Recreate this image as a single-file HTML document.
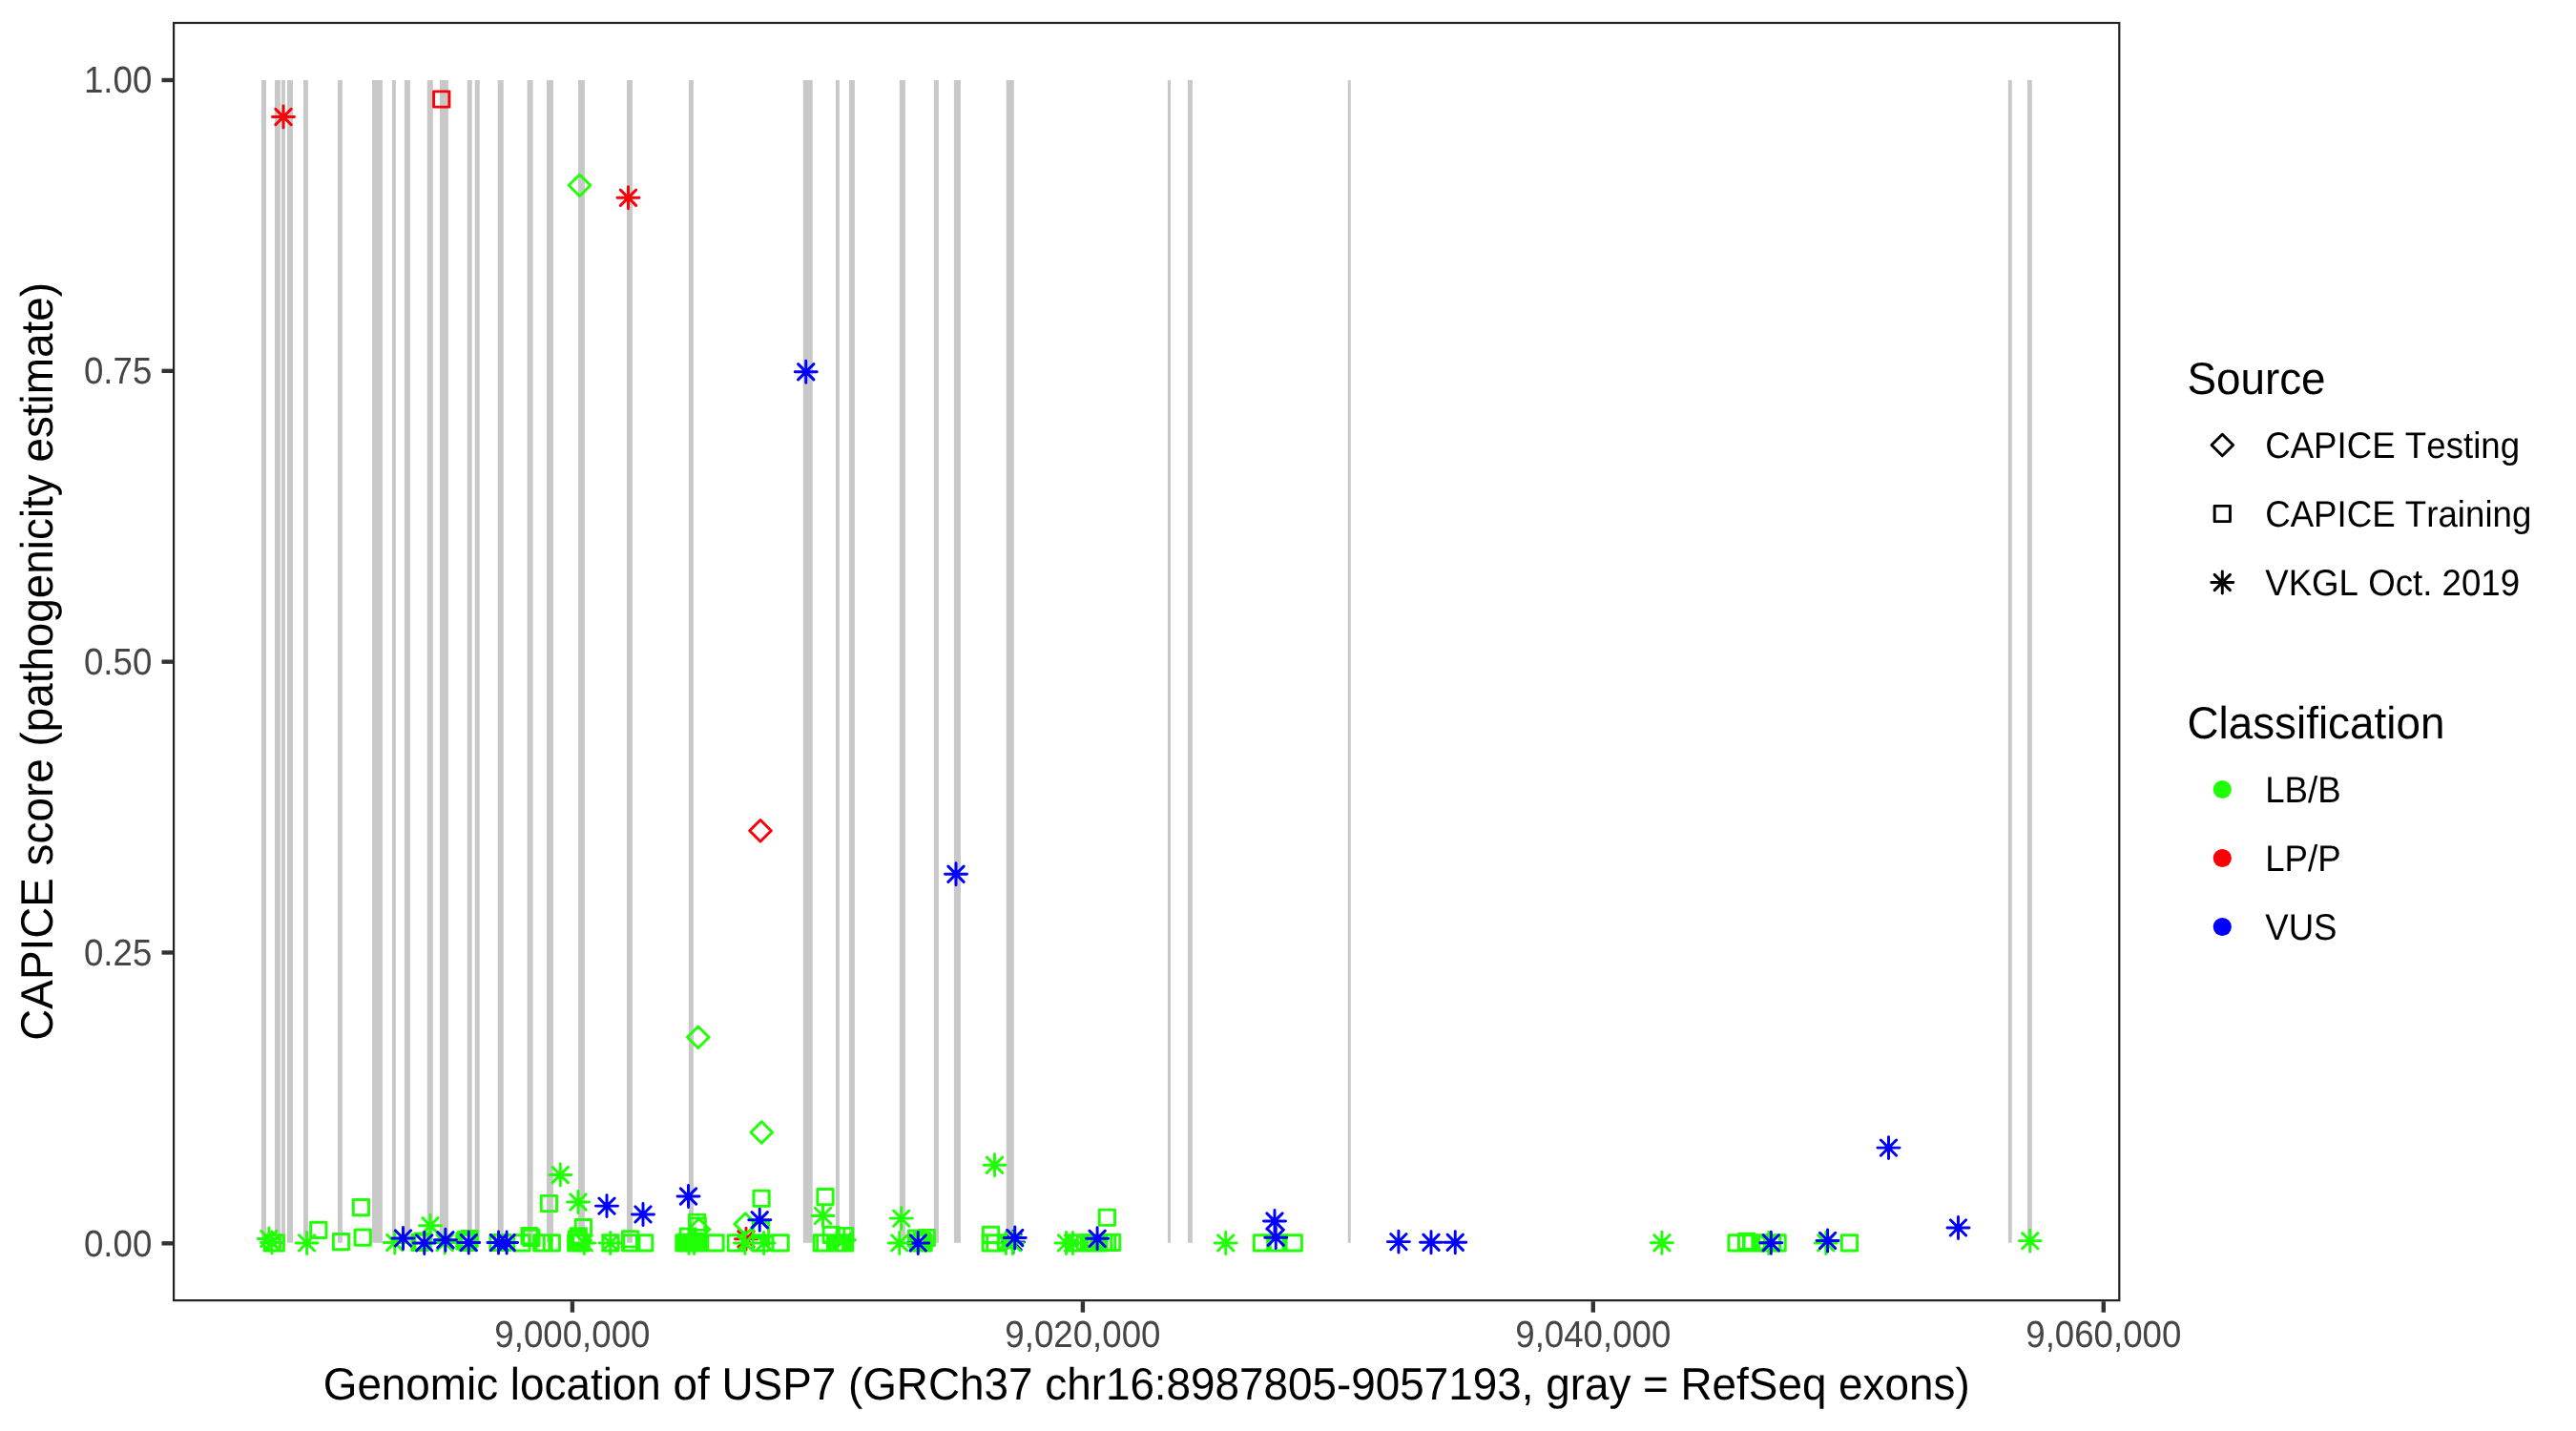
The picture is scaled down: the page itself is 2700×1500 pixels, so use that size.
<!DOCTYPE html><html><head><meta charset="utf-8"><title>CAPICE USP7</title>
<style>html,body{margin:0;padding:0;background:#fff}svg{display:block;will-change:transform}text{font-family:"Liberation Sans",Arial,Helvetica,sans-serif;font-kerning:none;font-variant-ligatures:none;text-rendering:geometricPrecision}</style></head><body>
<svg width="2700" height="1500" viewBox="0 0 2700 1500">
<rect width="2700" height="1500" fill="#fff"/>
<path d="M274.00 84.1H279.00V1302.7H274.00zM288.00 84.1H293.90V1302.7H288.00zM295.10 84.1H298.90V1302.7H295.10zM301.00 84.1H307.00V1302.7H301.00zM318.00 84.1H322.90V1302.7H318.00zM354.00 84.1H358.90V1302.7H354.00zM390.00 84.1H400.90V1302.7H390.00zM410.90 84.1H414.90V1302.7H410.90zM423.90 84.1H429.90V1302.7H423.90zM447.75 84.1H453.75V1302.7H447.75zM460.90 84.1H469.90V1302.7H460.90zM489.75 84.1H494.75V1302.7H489.75zM497.75 84.1H502.75V1302.7H497.75zM521.75 84.1H527.75V1302.7H521.75zM552.60 84.1H558.60V1302.7H552.60zM573.00 84.1H579.90V1302.7H573.00zM606.00 84.1H612.90V1302.7H606.00zM657.00 84.1H662.90V1302.7H657.00zM721.90 84.1H726.90V1302.7H721.90zM841.75 84.1H851.75V1302.7H841.75zM876.00 84.1H879.90V1302.7H876.00zM890.00 84.1H895.90V1302.7H890.00zM942.90 84.1H948.90V1302.7H942.90zM978.90 84.1H983.90V1302.7H978.90zM999.90 84.1H1006.90V1302.7H999.90zM1054.75 84.1H1062.75V1302.7H1054.75zM1223.90 84.1H1227.00V1302.7H1223.90zM1244.90 84.1H1249.90V1302.7H1244.90zM1412.75 84.1H1415.75V1302.7H1412.75zM2104.90 84.1H2108.75V1302.7H2104.90zM2124.90 84.1H2129.75V1302.7H2124.90z" fill="#C8C8C8"/>
<path d="M288.86 114.36L305.14 130.64M288.86 130.64L305.14 114.36M285.50 122.50H308.50M297.00 111.00V134.00M454.61 95.86h16.28v16.28h-16.28zM650.36 199.11L666.64 215.39M650.36 215.39L666.64 199.11M647.00 207.25H670.00M658.50 195.75V218.75M785.70 870.75L797.00 859.45L808.30 870.75L797.00 882.05zM773.86 1290.66L790.14 1306.94M773.86 1306.94L790.14 1290.66M770.50 1298.80H793.50M782.00 1287.30V1310.30" fill="none" stroke="#FB0007" stroke-width="2.95" stroke-linecap="round" stroke-linejoin="round"/>
<path d="M596.20 194.25L607.50 182.95L618.80 194.25L607.50 205.55zM720.45 1087.25L731.75 1075.95L743.05 1087.25L731.75 1098.55zM786.95 1187.00L798.25 1175.70L809.55 1187.00L798.25 1198.30zM1034.36 1213.11L1050.64 1229.39M1034.36 1229.39L1050.64 1213.11M1031.00 1221.25H1054.00M1042.50 1209.75V1232.75M273.76 1290.26L290.04 1306.54M273.76 1306.54L290.04 1290.26M270.40 1298.40H293.40M281.90 1286.90V1309.90M276.86 1294.36L293.14 1310.64M276.86 1310.64L293.14 1294.36M273.50 1302.50H296.50M285.00 1291.00V1314.00M277.26 1294.76h16.28v16.28h-16.28zM281.16 1294.76h16.28v16.28h-16.28zM313.46 1294.76L329.74 1311.04M313.46 1311.04L329.74 1294.76M310.10 1302.90H333.10M321.60 1291.40V1314.40M325.61 1281.26h16.28v16.28h-16.28zM349.36 1293.46h16.28v16.28h-16.28zM370.26 1257.46h16.28v16.28h-16.28zM372.11 1288.96h16.28v16.28h-16.28zM405.61 1294.36L421.89 1310.64M405.61 1310.64L421.89 1294.36M402.25 1302.50H425.25M413.75 1291.00V1314.00M442.86 1276.61L459.14 1292.89M442.86 1292.89L459.14 1276.61M439.50 1284.75H462.50M451.00 1273.25V1296.25M431.86 1294.36h16.28v16.28h-16.28zM434.86 1292.86h16.28v16.28h-16.28zM458.11 1294.36L474.39 1310.64M458.11 1310.64L474.39 1294.36M454.75 1302.50H477.75M466.25 1291.00V1314.00M478.76 1292.86h16.28v16.28h-16.28zM481.86 1294.36h16.28v16.28h-16.28zM483.96 1290.56h16.28v16.28h-16.28zM480.36 1291.36h16.28v16.28h-16.28zM513.86 1294.36h16.28v16.28h-16.28zM518.86 1294.36h16.28v16.28h-16.28zM538.76 1294.76h16.28v16.28h-16.28zM546.86 1287.46h16.28v16.28h-16.28zM548.76 1289.36h16.28v16.28h-16.28zM559.61 1294.76h16.28v16.28h-16.28zM561.86 1294.76h16.28v16.28h-16.28zM570.26 1294.76h16.28v16.28h-16.28zM579.11 1223.36L595.39 1239.64M579.11 1239.64L595.39 1223.36M575.75 1231.50H598.75M587.25 1220.00V1243.00M567.26 1253.36h16.28v16.28h-16.28zM597.86 1251.86L614.14 1268.14M597.86 1268.14L614.14 1251.86M594.50 1260.00H617.50M606.00 1248.50V1271.50M603.26 1278.46h16.28v16.28h-16.28zM595.56 1294.76h16.28v16.28h-16.28zM596.86 1294.76h16.28v16.28h-16.28zM598.16 1294.76h16.28v16.28h-16.28zM599.46 1293.66h16.28v16.28h-16.28zM600.86 1294.76h16.28v16.28h-16.28zM598.16 1287.66h16.28v16.28h-16.28zM596.26 1290.61h16.28v16.28h-16.28zM596.80 1300.00L608.10 1288.70L619.40 1300.00L608.10 1311.30zM604.11 1294.76L620.39 1311.04M604.11 1311.04L620.39 1294.76M600.75 1302.90H623.75M612.25 1291.40V1314.40M631.86 1294.76h16.28v16.28h-16.28zM631.56 1294.76L647.84 1311.04M631.56 1311.04L647.84 1294.76M628.20 1302.90H651.20M639.70 1291.40V1314.40M652.46 1290.61h16.28v16.28h-16.28zM652.46 1294.76h16.28v16.28h-16.28zM653.76 1294.76h16.28v16.28h-16.28zM667.46 1294.76h16.28v16.28h-16.28zM708.76 1294.76h16.28v16.28h-16.28zM710.86 1294.16h16.28v16.28h-16.28zM713.36 1294.76h16.28v16.28h-16.28zM713.11 1287.86h16.28v16.28h-16.28zM715.61 1294.76h16.28v16.28h-16.28zM717.86 1294.16h16.28v16.28h-16.28zM719.86 1294.76h16.28v16.28h-16.28zM721.86 1294.76h16.28v16.28h-16.28zM723.46 1294.76h16.28v16.28h-16.28zM713.86 1294.86L730.14 1311.14M713.86 1311.14L730.14 1294.86M710.50 1303.00H733.50M722.00 1291.50V1314.50M719.36 1294.86L735.64 1311.14M719.36 1311.14L735.64 1294.86M716.00 1303.00H739.00M727.50 1291.50V1314.50M722.46 1273.11h16.28v16.28h-16.28zM723.11 1276.86h16.28v16.28h-16.28zM721.20 1288.75L732.50 1277.45L743.80 1288.75L732.50 1300.05zM741.86 1294.76h16.28v16.28h-16.28zM763.11 1294.76h16.28v16.28h-16.28zM769.95 1283.10L781.25 1271.80L792.55 1283.10L781.25 1294.40zM772.76 1294.86L789.04 1311.14M772.76 1311.14L789.04 1294.86M769.40 1303.00H792.40M780.90 1291.50V1314.50M789.96 1248.11h16.28v16.28h-16.28zM789.36 1281.26h16.28v16.28h-16.28zM792.46 1294.76L808.74 1311.04M792.46 1311.04L808.74 1294.76M789.10 1302.90H812.10M800.60 1291.40V1314.40M789.36 1294.76h16.28v16.28h-16.28zM809.96 1294.76h16.28v16.28h-16.28zM856.86 1246.46h16.28v16.28h-16.28zM854.36 1266.26L870.64 1282.54M854.36 1282.54L870.64 1266.26M851.00 1274.40H874.00M862.50 1262.90V1285.90M863.11 1286.26h16.28v16.28h-16.28zM853.06 1294.76h16.28v16.28h-16.28zM856.66 1294.76h16.28v16.28h-16.28zM867.36 1294.76h16.28v16.28h-16.28zM870.36 1294.76h16.28v16.28h-16.28zM873.11 1294.76h16.28v16.28h-16.28zM874.86 1294.76h16.28v16.28h-16.28zM877.46 1287.36h16.28v16.28h-16.28zM877.46 1294.76h16.28v16.28h-16.28zM876.76 1291.66L893.04 1307.94M876.76 1307.94L893.04 1291.66M873.40 1299.80H896.40M884.90 1288.30V1311.30M936.61 1268.96L952.89 1285.24M936.61 1285.24L952.89 1268.96M933.25 1277.10H956.25M944.75 1265.60V1288.60M952.46 1289.96h16.28v16.28h-16.28zM963.11 1289.36h16.28v16.28h-16.28zM954.36 1294.76h16.28v16.28h-16.28zM956.86 1294.76h16.28v16.28h-16.28zM958.36 1292.36h16.28v16.28h-16.28zM959.96 1294.76h16.28v16.28h-16.28zM1030.36 1286.26h16.28v16.28h-16.28zM1030.06 1294.76h16.28v16.28h-16.28zM1034.76 1294.76h16.28v16.28h-16.28zM1109.36 1294.76L1125.64 1311.04M1109.36 1311.04L1125.64 1294.76M1106.00 1302.90H1129.00M1117.50 1291.40V1314.40M1116.26 1294.76L1132.54 1311.04M1116.26 1311.04L1132.54 1294.76M1112.90 1302.90H1135.90M1124.40 1291.40V1314.40M1119.86 1294.76h16.28v16.28h-16.28zM1129.36 1294.76h16.28v16.28h-16.28zM1133.36 1294.36h16.28v16.28h-16.28zM1136.86 1294.76h16.28v16.28h-16.28zM1139.86 1294.36h16.28v16.28h-16.28zM1143.66 1294.76h16.28v16.28h-16.28zM1148.46 1294.36h16.28v16.28h-16.28zM1152.36 1294.36h16.28v16.28h-16.28zM1157.46 1294.16h16.28v16.28h-16.28zM1152.26 1268.11h16.28v16.28h-16.28zM1276.61 1294.76L1292.89 1311.04M1276.61 1311.04L1292.89 1294.76M1273.25 1302.90H1296.25M1284.75 1291.40V1314.40M1314.36 1294.76h16.28v16.28h-16.28zM1328.66 1294.76h16.28v16.28h-16.28zM1331.36 1294.76h16.28v16.28h-16.28zM1348.11 1294.76h16.28v16.28h-16.28zM1733.76 1294.61L1750.04 1310.89M1733.76 1310.89L1750.04 1294.61M1730.40 1302.75H1753.40M1741.90 1291.25V1314.25M1811.86 1294.76h16.28v16.28h-16.28zM1822.46 1293.11h16.28v16.28h-16.28zM1827.46 1294.76h16.28v16.28h-16.28zM1836.86 1294.76h16.28v16.28h-16.28zM1839.36 1294.76h16.28v16.28h-16.28zM1842.36 1294.76h16.28v16.28h-16.28zM1849.36 1294.76h16.28v16.28h-16.28zM1854.96 1294.76h16.28v16.28h-16.28zM1845.61 1294.86L1861.89 1311.14M1845.61 1311.14L1861.89 1294.86M1842.25 1303.00H1865.25M1853.75 1291.50V1314.50M1905.61 1294.76L1921.89 1311.04M1905.61 1311.04L1921.89 1294.76M1902.25 1302.90H1925.25M1913.75 1291.40V1314.40M1930.36 1294.76h16.28v16.28h-16.28zM2119.61 1292.46L2135.89 1308.74M2119.61 1308.74L2135.89 1292.46M2116.25 1300.60H2139.25M2127.75 1289.10V1312.10" fill="none" stroke="#21FF06" stroke-width="2.95" stroke-linecap="round" stroke-linejoin="round"/>
<path d="M836.61 381.61L852.89 397.89M836.61 397.89L852.89 381.61M833.25 389.75H856.25M844.75 378.25V401.25M993.86 908.11L1010.14 924.39M993.86 924.39L1010.14 908.11M990.50 916.25H1013.50M1002.00 904.75V927.75M414.36 1289.76L430.64 1306.04M414.36 1306.04L430.64 1289.76M411.00 1297.90H434.00M422.50 1286.40V1309.40M436.61 1294.76L452.89 1311.04M436.61 1311.04L452.89 1294.76M433.25 1302.90H456.25M444.75 1291.40V1314.40M458.76 1291.61L475.04 1307.89M458.76 1307.89L475.04 1291.61M455.40 1299.75H478.40M466.90 1288.25V1311.25M483.11 1294.36L499.39 1310.64M483.11 1310.64L499.39 1294.36M479.75 1302.50H502.75M491.25 1291.00V1314.00M514.36 1294.36L530.64 1310.64M514.36 1310.64L530.64 1294.36M511.00 1302.50H534.00M522.50 1291.00V1314.00M522.96 1294.36L539.24 1310.64M522.96 1310.64L539.24 1294.36M519.60 1302.50H542.60M531.10 1291.00V1314.00M627.86 1255.96L644.14 1272.24M627.86 1272.24L644.14 1255.96M624.50 1264.10H647.50M636.00 1252.60V1275.60M665.86 1264.76L682.14 1281.04M665.86 1281.04L682.14 1264.76M662.50 1272.90H685.50M674.00 1261.40V1284.40M713.36 1245.86L729.64 1262.14M713.36 1262.14L729.64 1245.86M710.00 1254.00H733.00M721.50 1242.50V1265.50M788.11 1270.61L804.39 1286.89M788.11 1286.89L804.39 1270.61M784.75 1278.75H807.75M796.25 1267.25V1290.25M954.11 1294.76L970.39 1311.04M954.11 1311.04L970.39 1294.76M950.75 1302.90H973.75M962.25 1291.40V1314.40M1053.86 1293.86L1070.14 1310.14M1053.86 1310.14L1070.14 1293.86M1050.50 1302.00H1073.50M1062.00 1290.50V1313.50M1141.96 1290.16L1158.24 1306.44M1141.96 1306.44L1158.24 1290.16M1138.60 1298.30H1161.60M1150.10 1286.80V1309.80M1327.86 1271.86L1344.14 1288.14M1327.86 1288.14L1344.14 1271.86M1324.50 1280.00H1347.50M1336.00 1268.50V1291.50M1329.11 1289.06L1345.39 1305.34M1329.11 1305.34L1345.39 1289.06M1325.75 1297.20H1348.75M1337.25 1285.70V1308.70M1457.76 1293.46L1474.04 1309.74M1457.76 1309.74L1474.04 1293.46M1454.40 1301.60H1477.40M1465.90 1290.10V1313.10M1491.86 1294.11L1508.14 1310.39M1491.86 1310.39L1508.14 1294.11M1488.50 1302.25H1511.50M1500.00 1290.75V1313.75M1517.11 1294.11L1533.39 1310.39M1517.11 1310.39L1533.39 1294.11M1513.75 1302.25H1536.75M1525.25 1290.75V1313.75M1848.16 1294.56L1864.44 1310.84M1848.16 1310.84L1864.44 1294.56M1844.80 1302.70H1867.80M1856.30 1291.20V1314.20M1907.46 1292.26L1923.74 1308.54M1907.46 1308.54L1923.74 1292.26M1904.10 1300.40H1927.10M1915.60 1288.90V1311.90M1971.36 1194.96L1987.64 1211.24M1971.36 1211.24L1987.64 1194.96M1968.00 1203.10H1991.00M1979.50 1191.60V1214.60M2044.36 1278.76L2060.64 1295.04M2044.36 1295.04L2060.64 1278.76M2041.00 1286.90H2064.00M2052.50 1275.40V1298.40" fill="none" stroke="#0000FF" stroke-width="2.95" stroke-linecap="round" stroke-linejoin="round"/>
<path d="M934.61 1294.76L950.89 1311.04M934.61 1311.04L950.89 1294.76M931.25 1302.90H954.25M942.75 1291.40V1314.40M1046.26 1294.76L1062.54 1311.04M1046.26 1311.04L1062.54 1294.76M1042.90 1302.90H1065.90M1054.40 1291.40V1314.40M1053.11 1294.76L1069.39 1311.04M1053.11 1311.04L1069.39 1294.76M1049.75 1302.90H1072.75M1061.25 1291.40V1314.40" fill="none" stroke="#21FF06" stroke-width="2.95" stroke-linecap="round" stroke-linejoin="round"/>
<path d="M1055.61 1289.36L1071.89 1305.64M1055.61 1305.64L1071.89 1289.36M1052.25 1297.50H1075.25M1063.75 1286.00V1309.00" fill="none" stroke="#0000FF" stroke-width="2.95" stroke-linecap="round" stroke-linejoin="round"/>
<rect x="182.1" y="24.0" width="2039.2" height="1339.1" fill="none" stroke="#222" stroke-width="2.2"/>
<line x1="169.5" x2="181.0" y1="84.00" y2="84.00" stroke="#333" stroke-width="4.4"/>
<text transform="translate(159.3,97.45) scale(1,1.07)" font-size="36.67" fill="#454545" text-anchor="end">1.00</text>
<line x1="169.5" x2="181.0" y1="388.83" y2="388.83" stroke="#333" stroke-width="4.4"/>
<text transform="translate(159.3,402.28) scale(1,1.07)" font-size="36.67" fill="#454545" text-anchor="end">0.75</text>
<line x1="169.5" x2="181.0" y1="693.65" y2="693.65" stroke="#333" stroke-width="4.4"/>
<text transform="translate(159.3,707.10) scale(1,1.07)" font-size="36.67" fill="#454545" text-anchor="end">0.50</text>
<line x1="169.5" x2="181.0" y1="998.47" y2="998.47" stroke="#333" stroke-width="4.4"/>
<text transform="translate(159.3,1011.92) scale(1,1.07)" font-size="36.67" fill="#454545" text-anchor="end">0.25</text>
<line x1="169.5" x2="181.0" y1="1303.30" y2="1303.30" stroke="#333" stroke-width="4.4"/>
<text transform="translate(159.3,1316.75) scale(1,1.07)" font-size="36.67" fill="#454545" text-anchor="end">0.00</text>
<line x1="599.9" x2="599.9" y1="1364.2" y2="1375.7" stroke="#333" stroke-width="4.4"/>
<text transform="translate(599.9,1412.2) scale(1,1.07)" font-size="36.67" fill="#454545" text-anchor="middle">9,000,000</text>
<line x1="1134.9" x2="1134.9" y1="1364.2" y2="1375.7" stroke="#333" stroke-width="4.4"/>
<text transform="translate(1134.9,1412.2) scale(1,1.07)" font-size="36.67" fill="#454545" text-anchor="middle">9,020,000</text>
<line x1="1669.8" x2="1669.8" y1="1364.2" y2="1375.7" stroke="#333" stroke-width="4.4"/>
<text transform="translate(1669.8,1412.2) scale(1,1.07)" font-size="36.67" fill="#454545" text-anchor="middle">9,040,000</text>
<line x1="2204.8" x2="2204.8" y1="1364.2" y2="1375.7" stroke="#333" stroke-width="4.4"/>
<text transform="translate(2204.8,1412.2) scale(1,1.07)" font-size="36.67" fill="#454545" text-anchor="middle">9,060,000</text>
<text transform="translate(1201.7,1466.6) scale(1,1.035)" font-size="45.83" fill="#000" text-anchor="middle">Genomic location of USP7 (GRCh37 chr16:8987805-9057193, gray = RefSeq exons)</text>
<text transform="translate(55.1,693.4) rotate(-90) scale(1,1.035)" font-size="45.83" fill="#000" text-anchor="middle">CAPICE score (pathogenicity estimate)</text>
<text transform="translate(2292.4,412.9) scale(1,1.035)" font-size="45.83" fill="#000">Source</text>
<path d="M2318.00 466.50L2329.30 455.20L2340.60 466.50L2329.30 477.80z" fill="none" stroke="#000" stroke-width="2.95" stroke-linecap="round" stroke-linejoin="round"/>
<text transform="translate(2374.2,479.8) scale(1,1.055)" font-size="36.67" fill="#000">CAPICE Testing</text>
<path d="M2321.16 530.36h16.28v16.28h-16.28z" fill="none" stroke="#000" stroke-width="2.95" stroke-linecap="round" stroke-linejoin="round"/>
<text transform="translate(2374.2,551.8) scale(1,1.055)" font-size="36.67" fill="#000">CAPICE Training</text>
<path d="M2321.16 602.36L2337.44 618.64M2321.16 618.64L2337.44 602.36M2317.80 610.50H2340.80M2329.30 599.00V622.00" fill="none" stroke="#000" stroke-width="2.95" stroke-linecap="round" stroke-linejoin="round"/>
<text transform="translate(2374.2,623.8) scale(1,1.055)" font-size="36.67" fill="#000">VKGL Oct. 2019</text>
<text transform="translate(2292.4,773.9) scale(1,1.035)" font-size="45.83" fill="#000">Classification</text>
<circle cx="2329.3" cy="827.5" r="9.6" fill="#21FF06"/>
<text transform="translate(2374.2,840.8) scale(1,1.055)" font-size="36.67" fill="#000">LB/B</text>
<circle cx="2329.3" cy="899.5" r="9.6" fill="#FB0007"/>
<text transform="translate(2374.2,912.8) scale(1,1.055)" font-size="36.67" fill="#000">LP/P</text>
<circle cx="2329.3" cy="971.5" r="9.6" fill="#0000FF"/>
<text transform="translate(2374.2,984.8) scale(1,1.055)" font-size="36.67" fill="#000">VUS</text>
</svg></body></html>
